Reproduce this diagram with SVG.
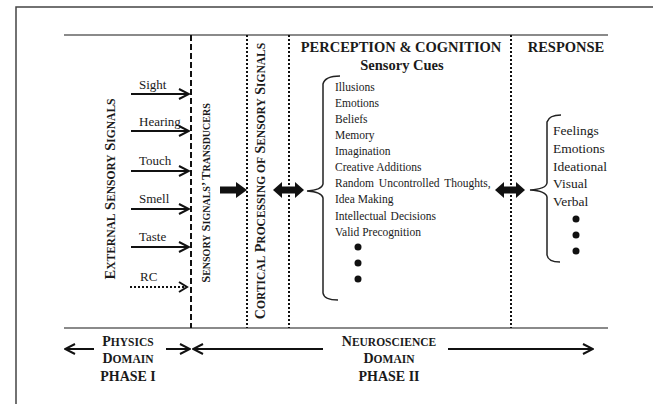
<svg xmlns="http://www.w3.org/2000/svg" width="653" height="404" viewBox="0 0 653 404">
<defs>
<style>
.t{font-family:"Liberation Serif","Times New Roman",serif;fill:#1a1a1a}
.b{font-weight:bold}
.hl{stroke:#8a8a8a;stroke-width:2;fill:none}
.ln{stroke:#111;stroke-width:2;fill:none}
.dash{stroke:#111;stroke-width:2;stroke-dasharray:6 3;fill:none}
.dot{stroke:#111;stroke-width:2;stroke-dasharray:2 2;fill:none}
.blk{fill:#111}
</style>
<marker id="ah" viewBox="0 0 12 12" refX="11" refY="6" markerWidth="12" markerHeight="12" markerUnits="userSpaceOnUse" orient="auto-start-reverse">
<path d="M1,1 L11,6 L1,11" fill="none" stroke="#111" stroke-width="2"/>
</marker>
</defs>
<rect width="653" height="404" fill="#fff"/>
<g id="frame">
<path d="M16,404 L16,7 L653,7" fill="none" stroke="#444" stroke-width="1.5"/>
<line class="hl" x1="64" y1="35" x2="608" y2="35"/>
<line class="hl" x1="64" y1="328" x2="608" y2="328"/>
<line class="dash" x1="191" y1="35" x2="191" y2="328"/>
<line class="dot" x1="247" y1="35" x2="247" y2="328"/>
<line class="dot" x1="289" y1="35" x2="289" y2="328"/>
<line class="dot" x1="511" y1="35" x2="511" y2="328"/>
</g>
<g id="connectors">
<line class="ln" x1="131" y1="94" x2="189" y2="94" marker-end="url(#ah)"/>
<line class="ln" x1="131" y1="131" x2="189" y2="131" marker-end="url(#ah)"/>
<line class="ln" x1="131" y1="171" x2="189" y2="171" marker-end="url(#ah)"/>
<line class="ln" x1="131" y1="209" x2="189" y2="209" marker-end="url(#ah)"/>
<line class="ln" x1="131" y1="247" x2="189" y2="247" marker-end="url(#ah)"/>
<line class="dot" x1="130" y1="287" x2="184" y2="287"/>
<path d="M179,282 L187,287 L179,292" fill="none" stroke="#111" stroke-width="2"/>
<path class="blk" d="M220,186.5 L236,186.5 L236,182 L247,190 L236,198 L236,193.5 L220,193.5 Z"/>
<path class="blk" d="M273,190 L282,182 L282,186.5 L295,186.5 L295,182 L304,190 L295,198 L295,193.5 L282,193.5 L282,198 Z"/>
<path class="blk" d="M495,190 L504,182 L504,186.5 L516,186.5 L516,182 L525,190 L516,198 L516,193.5 L504,193.5 L504,198 Z"/>
<path d="M340,76 Q325,76 323,84 L323,184 Q322,190 307,191 Q322,192 323,198 L323,293 Q324,300 338,300" fill="none" stroke="#222" stroke-width="1.5"/>
<path d="M561,115 Q549,115 547,122 L547,183 Q546,189 530,190 Q546,191 547,197 L547,255 Q548,262 560,262" fill="none" stroke="#222" stroke-width="1.5"/>
<line class="ln" x1="94" y1="349" x2="65" y2="349" marker-end="url(#ah)"/>
<line class="ln" x1="166" y1="349" x2="190" y2="349" marker-end="url(#ah)"/>
<line class="ln" x1="323" y1="349" x2="193" y2="349" marker-end="url(#ah)"/>
<line class="ln" x1="448" y1="349" x2="593" y2="349" marker-end="url(#ah)"/>
</g>
<g id="external-signals">
<text class="t b" transform="translate(115,189) rotate(-90)" text-anchor="middle" font-size="14.5">E<tspan font-size="11.5">XTERNAL</tspan> S<tspan font-size="11.5">ENSORY</tspan> S<tspan font-size="11.5">IGNALS</tspan></text>
<text class="t" x="139" y="89" font-size="13">Sight</text>
<text class="t" x="139" y="126" font-size="13">Hearing</text>
<text class="t" x="139" y="165" font-size="13">Touch</text>
<text class="t" x="139" y="203" font-size="13">Smell</text>
<text class="t" x="139" y="241" font-size="13">Taste</text>
<text class="t" x="140" y="281" font-size="13">RC</text>
</g>
<g id="transducers">
<text class="t b" transform="translate(210,193) rotate(-90)" text-anchor="middle" font-size="12.5">S<tspan font-size="10">ENSORY</tspan> S<tspan font-size="10">IGNALS</tspan>’ T<tspan font-size="10">RANSDUCERS</tspan></text>
</g>
<g id="cortical">
<text class="t b" transform="translate(265,181) rotate(-90)" text-anchor="middle" font-size="14">C<tspan font-size="11.5">ORTICAL</tspan> P<tspan font-size="11.5">ROCESSING OF</tspan> S<tspan font-size="11.5">ENSORY</tspan> S<tspan font-size="11.5">IGNALS</tspan></text>
</g>
<g id="perception">
<text class="t b" x="401" y="52" text-anchor="middle" font-size="14.5">PERCEPTION &amp; COGNITION</text>
<text class="t b" x="402" y="70" text-anchor="middle" font-size="14.5">Sensory Cues</text>
<g font-size="11.5">
<text class="t" x="335" y="91">Illusions</text>
<text class="t" x="335" y="107">Emotions</text>
<text class="t" x="335" y="123">Beliefs</text>
<text class="t" x="335" y="139">Memory</text>
<text class="t" x="335" y="155">Imagination</text>
<text class="t" x="335" y="171">Creative Additions</text>
<text class="t" x="335" y="187" word-spacing="2">Random Uncontrolled Thoughts,</text>
<text class="t" x="335" y="203">Idea Making</text>
<text class="t" x="335" y="220" word-spacing="1">Intellectual Decisions</text>
<text class="t" x="335" y="236">Valid Precognition</text>
</g>
<circle class="blk" cx="358" cy="247" r="3.5"/>
<circle class="blk" cx="358" cy="263" r="3.5"/>
<circle class="blk" cx="358" cy="279" r="3.5"/>
</g>
<g id="response">
<text class="t b" x="566" y="52" text-anchor="middle" font-size="14.5">RESPONSE</text>
<g font-size="13.5">
<text class="t" x="553" y="135">Feelings</text>
<text class="t" x="553" y="153">Emotions</text>
<text class="t" x="553" y="171">Ideational</text>
<text class="t" x="553" y="188">Visual</text>
<text class="t" x="553" y="206">Verbal</text>
</g>
<circle class="blk" cx="576" cy="219" r="3.5"/>
<circle class="blk" cx="576" cy="235" r="3.5"/>
<circle class="blk" cx="576" cy="251" r="3.5"/>
</g>
<g id="physics-domain">
<text class="t b" x="128" y="346" text-anchor="middle" font-size="14">P<tspan font-size="11.5">HYSICS</tspan></text>
<text class="t b" x="128" y="363" text-anchor="middle" font-size="14">D<tspan font-size="11.5">OMAIN</tspan></text>
<text class="t b" x="128" y="381" text-anchor="middle" font-size="14">PHASE I</text>
</g>
<g id="neuroscience-domain">
<text class="t b" x="389" y="346" text-anchor="middle" font-size="14">N<tspan font-size="11.5">EUROSCIENCE</tspan></text>
<text class="t b" x="389" y="363" text-anchor="middle" font-size="14">D<tspan font-size="11.5">OMAIN</tspan></text>
<text class="t b" x="389" y="381" text-anchor="middle" font-size="14">PHASE II</text>
</g>
</svg>
